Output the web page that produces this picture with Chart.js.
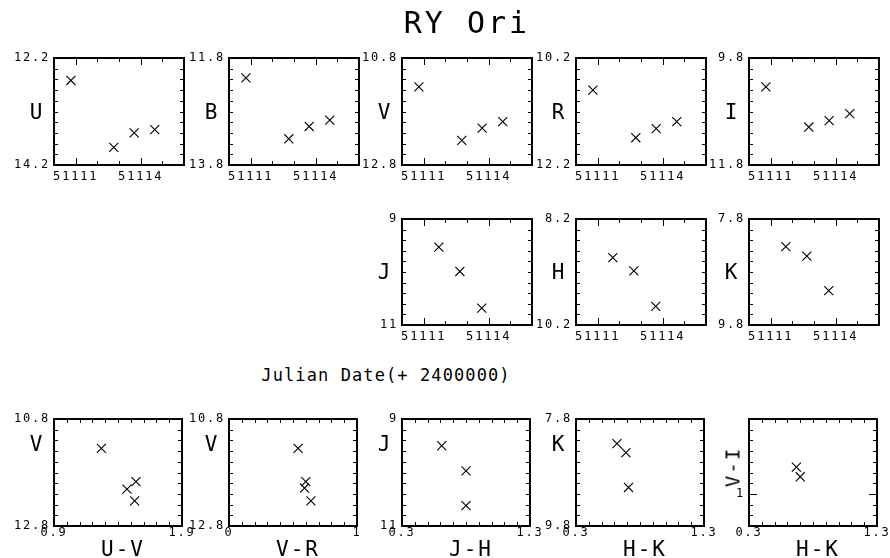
<!DOCTYPE html>
<html>
<head>
<meta charset="utf-8">
<script src="https://cdn.jsdelivr.net/npm/chart.js@4.4.0/dist/chart.umd.min.js"></script>
<style>
  html, body { margin: 0; padding: 0; background: #fff; }
  #fig { position: relative; width: 890px; height: 558px; overflow: hidden; background: #fff; }
  #fig canvas { position: absolute; }
  .lbl {
    position: absolute; color: #000; white-space: nowrap; line-height: 1;
    font-family: "DejaVu Sans Mono", monospace;
    transform: translate(-50%, -50%);
  }
</style>
</head>
<body>
<div id="fig"></div>
<script>
// ---- photometry of RY Ori (dates are JD - 2400000) ----
const optDates = [51110.78, 51112.76, 51113.70, 51114.65];
const magU = [12.62, 13.87, 13.60, 13.54];
const magB = [12.17, 13.31, 13.08, 12.96];
const magV = [11.34, 12.34, 12.11, 11.99];
const magR = [10.80, 11.69, 11.52, 11.39];
const magI = [10.34, 11.09, 10.97, 10.84];

const irDates = [51111.70, 51112.67, 51113.68];
const magJ = [9.53, 9.99, 10.68];
const magH = [8.93, 9.18, 9.85];
const magK = [8.32, 8.50, 9.15];

// colour-magnitude / colour-colour diagrams
const uvColour = [1.27, 1.54, 1.47, 1.53];
const uvV      = [11.35, 11.97, 12.11, 12.33];
const vrColour = [0.54, 0.60, 0.59, 0.64];
const vrV      = [11.35, 11.97, 12.09, 12.33];
const jhColour = [0.61, 0.80, 0.80];
const jhJ      = [9.50, 9.97, 10.62];
const hkColour = [0.62, 0.69, 0.71];
const hkK      = [8.26, 8.43, 9.08];
const viHK     = [0.67, 0.70];
const viColour = [1.25, 1.16];

// axis limits and labelled tick values
const dateRange = [51110, 51116];
const dateTicks = [51111, 51114];
const limU = [12.2, 14.2], limB = [11.8, 13.8], limV = [10.8, 12.8];
const limR = [10.2, 12.2], limI = [9.8, 11.8];
const limJ = [9, 11], limH = [8.2, 10.2], limK = [7.8, 9.8];
const limUV = [0.9, 1.9], limVR = [0, 1], limJH = [0.3, 1.3], limHK = [0.3, 1.3];
const limVI = [0.7, 1.7];
const viTicks = [1];

// ---- page layout ----
const colLeft = [54, 229, 402, 576, 749];
const rowTop = [58, 219, 419];
const rowBoxW = [130, 130, 128];
const rowBoxH = [107, 106, 107];
const PAD_L = 48, PAD_R = 14, PAD_T = 10, PAD_B = 26;

const TIME = 'time', CMD = 'cmd';
const panels = [
  { kind: TIME, row: 0, col: 0, name: 'U', xs: optDates, ys: magU, yLim: limU },
  { kind: TIME, row: 0, col: 1, name: 'B', xs: optDates, ys: magB, yLim: limB },
  { kind: TIME, row: 0, col: 2, name: 'V', xs: optDates, ys: magV, yLim: limV },
  { kind: TIME, row: 0, col: 3, name: 'R', xs: optDates, ys: magR, yLim: limR },
  { kind: TIME, row: 0, col: 4, name: 'I', xs: optDates, ys: magI, yLim: limI },
  { kind: TIME, row: 1, col: 2, name: 'J', xs: irDates, ys: magJ, yLim: limJ },
  { kind: TIME, row: 1, col: 3, name: 'H', xs: irDates, ys: magH, yLim: limH },
  { kind: TIME, row: 1, col: 4, name: 'K', xs: irDates, ys: magK, yLim: limK },
  { kind: CMD, row: 2, col: 0, name: 'V', xName: 'U-V', xs: uvColour, ys: uvV, xLim: limUV, yLim: limV },
  { kind: CMD, row: 2, col: 1, name: 'V', xName: 'V-R', xs: vrColour, ys: vrV, xLim: limVR, yLim: limV },
  { kind: CMD, row: 2, col: 2, name: 'J', xName: 'J-H', xs: jhColour, ys: jhJ, xLim: limJH, yLim: limJ },
  { kind: CMD, row: 2, col: 3, name: 'K', xName: 'H-K', xs: hkColour, ys: hkK, xLim: limHK, yLim: limK },
  { kind: CMD, row: 2, col: 4, name: 'V-I', xName: 'H-K', xs: viHK, ys: viColour, xLim: limHK, yLim: limVI,
    upright: true, yLabelled: viTicks }
];

const fig = document.getElementById('fig');
const near = (a, b) => Math.abs(a - b) < 1e-6;

function addLabel(text, cx, cy, size, spacing, rotate) {
  const d = document.createElement('div');
  d.className = 'lbl';
  d.textContent = text;
  d.style.left = cx + 'px';
  d.style.top = cy + 'px';
  d.style.fontSize = size + 'px';
  d.style.letterSpacing = spacing + 'px';
  if (rotate) d.style.transform = 'translate(-50%,-50%) rotate(-90deg)';
  fig.appendChild(d);
}

// tick values between two limits at a fixed step
function tickValues(lim, step) {
  const lo = Math.min(lim[0], lim[1]), hi = Math.max(lim[0], lim[1]);
  const n = Math.round((hi - lo) / step);
  const out = [];
  for (let i = 0; i <= n; i++) out.push(lo + i * step);
  return out;
}

// box with inward tick marks on all four sides, PGPLOT style
function frameBox(xVals, yVals, xMajor, yMajor) {
  return {
    id: 'frameBox',
    beforeDraw(chart) { chart.ctx.letterSpacing = '1.8px'; },
    afterDraw(chart) {
      const ctx = chart.ctx, a = chart.chartArea;
      const sx = chart.scales.x, sy = chart.scales.y;
      const L = Math.round(a.left), R = Math.round(a.right);
      const T = Math.round(a.top), B = Math.round(a.bottom);
      ctx.save();
      ctx.fillStyle = '#000';
      for (const v of xVals) {
        const p = Math.round(sx.getPixelForValue(v));
        const len = xMajor(v) ? 7 : 4;
        ctx.fillRect(p, B - len, 1, len);
        ctx.fillRect(p, T, 1, len);
      }
      for (const v of yVals) {
        const p = Math.round(sy.getPixelForValue(v));
        const len = yMajor(v) ? 8 : 4;
        ctx.fillRect(L, p, len, 1);
        ctx.fillRect(R - len, p, len, 1);
      }
      // frame, two pixels wide
      ctx.fillRect(L - 1, T - 1, R - L + 2, 2);
      ctx.fillRect(L - 1, B - 1, R - L + 2, 2);
      ctx.fillRect(L - 1, T - 1, 2, B - T + 2);
      ctx.fillRect(R - 1, T - 1, 2, B - T + 2);
      ctx.restore();
    }
  };
}

const tickFont = { family: '"DejaVu Sans Mono", monospace', size: 12 };

panels.forEach(p => {
  const boxW = rowBoxW[p.row], boxH = rowBoxH[p.row];
  const left = colLeft[p.col], top = rowTop[p.row];
  const cv = document.createElement('canvas');
  const w = boxW + PAD_L + PAD_R, h = boxH + PAD_T + PAD_B;
  cv.width = w; cv.height = h;
  cv.style.left = (left - PAD_L) + 'px';
  cv.style.top = (top - PAD_T) + 'px';
  cv.style.width = w + 'px'; cv.style.height = h + 'px';
  fig.appendChild(cv);

  const isTime = p.kind === TIME;
  const xLim = isTime ? dateRange : p.xLim;
  const xLabelled = isTime ? dateTicks : p.xLim;
  const yLabelled = p.yLabelled || p.yLim;
  const xStep = isTime ? 1 : 0.1;
  const yStep = p.upright ? 0.1 : 0.2;
  const xMajor = v => isTime && Math.round(v) % 3 === 0;
  const yMajor = v => !!p.upright && near(v, Math.round(v));

  new Chart(cv, {
    type: 'scatter',
    data: {
      datasets: [{
        data: p.xs.map((x, i) => ({ x, y: p.ys[i] })),
        pointStyle: 'crossRot',
        pointRadius: 6.4,
        pointHoverRadius: 6.4,
        pointBorderWidth: 1.1,
        borderColor: '#000',
        backgroundColor: '#000'
      }]
    },
    options: {
      responsive: false,
      animation: false,
      events: [],
      devicePixelRatio: 1,
      layout: { padding: { left: 0, top: PAD_T, right: PAD_R, bottom: 0 } },
      plugins: {
        legend: { display: false },
        tooltip: { enabled: false }
      },
      scales: {
        x: {
          type: 'linear', position: 'bottom',
          min: xLim[0], max: xLim[1],
          grid: { display: false, drawTicks: false },
          border: { display: false },
          ticks: {
            stepSize: xStep,
            autoSkip: false, maxRotation: 0, minRotation: 0,
            padding: isTime ? 5 : 0,
            color: '#000', font: tickFont,
            callback: v => {
              const t = xLabelled.find(t => near(t, v));
              return t === undefined ? '' : String(t);
            }
          },
          afterFit: s => { s.height = PAD_B; s.paddingLeft = 0; s.paddingRight = 0; }
        },
        y: {
          type: 'linear', position: 'left',
          min: p.yLim[0], max: p.yLim[1],
          reverse: !p.upright,
          grid: { display: false, drawTicks: false },
          border: { display: false },
          ticks: {
            stepSize: yStep,
            autoSkip: false,
            padding: 4,
            color: '#000', font: tickFont,
            callback: v => {
              const t = yLabelled.find(t => near(t, v));
              return t === undefined ? '' : String(t);
            }
          },
          afterFit: s => { s.width = PAD_L; s.paddingTop = 0; s.paddingBottom = 0; }
        }
      }
    },
    plugins: [frameBox(tickValues(xLim, xStep), tickValues(p.yLim, yStep), xMajor, yMajor)]
  });

  // axis names
  if (p.row < 2) {
    addLabel(p.name, left - 18, top + boxH / 2, 21, 0);
  } else if (p.upright) {
    addLabel(p.name, left - 16, 466.5, 19, 2, true);
  } else {
    addLabel(p.name, left - 18, 444, 21, 0);
  }
  if (p.xName) addLabel(p.xName, left + boxW / 2 + 5, 548.5, 21, 2);
});

addLabel('RY Ori', 467, 22.5, 30, 3);
addLabel('Julian Date(+ 2400000)', 386, 375.3, 17, 1.1);
</script>
</body>
</html>
